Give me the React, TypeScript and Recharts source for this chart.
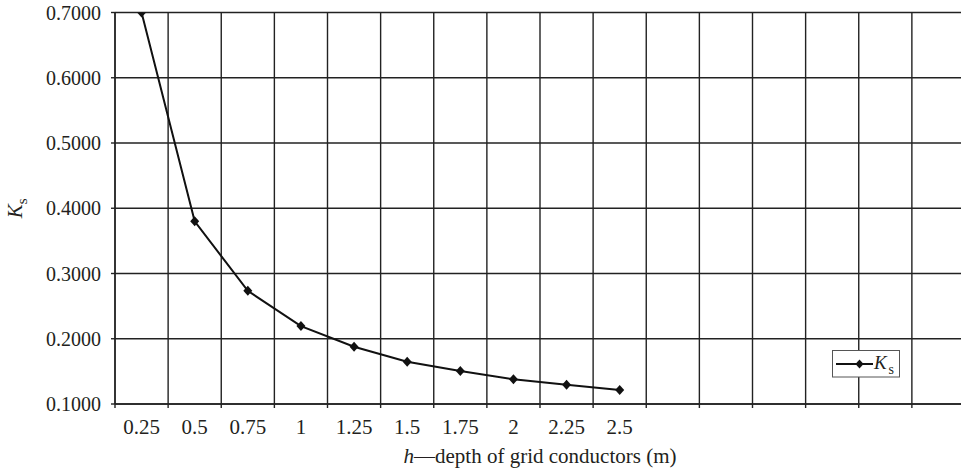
import React from 'react';
import { LineChart, Line, XAxis, YAxis, CartesianGrid, Legend } from 'recharts';

const depthLabels = ['0.25', '0.5', '0.75', '1', '1.25', '1.5', '1.75', '2', '2.25', '2.5'];
const ksValues = [0.7, 0.38, 0.2734, 0.2194, 0.1877, 0.1648, 0.1505, 0.1378, 0.1296, 0.1214];
const yTicks = [0.1, 0.2, 0.3, 0.4, 0.5, 0.6, 0.7];
const categoryCount = 16;

const data = depthLabels.map((label, i) => ({ pos: i + 0.5, label, ks: ksValues[i] }));
const boundaryTicks = Array.from({ length: categoryCount + 1 }, (_, i) => i);
const labelTicks = depthLabels.map((_, i) => i + 0.5);

const FONT = '"Liberation Serif", "DejaVu Serif", serif';
const INK = '#231f20';
const GRID = '#222';

const Diamond = (props: any) => {
  const { cx, cy } = props;
  if (cx == null || cy == null) return null;
  return (
    <polygon
      key={`d-${props.index}`}
      points={`${cx},${cy - 5} ${cx + 4.5},${cy} ${cx},${cy + 5} ${cx - 4.5},${cy}`}
      fill="#111"
    />
  );
};

const YTitle = (props: any) => {
  const vb = props.viewBox || { x: 0, y: 0, width: 0, height: 0 };
  const x = vb.x + 22;
  const y = vb.y + vb.height / 2;
  return (
    <text transform={`translate(${x},${y}) rotate(-90)`} textAnchor="middle" fontFamily={FONT} fontSize={21} fill={INK}>
      <tspan fontStyle="italic">K</tspan>
      <tspan fontSize={15} dy={5}>s</tspan>
    </text>
  );
};

const XTitle = (props: any) => {
  const vb = props.viewBox || { x: 0, y: 0, width: 0, height: 0 };
  const x = vb.x + vb.width / 2;
  const y = vb.y + 57.5;
  return (
    <text x={x} y={y} textAnchor="middle" fontFamily={FONT} fontSize={21} fill={INK}>
      <tspan fontStyle="italic">h</tspan>
      <tspan>—depth of grid conductors (m)</tspan>
    </text>
  );
};

const LegendBox = () => (
  <svg width={68} height={28} style={{ display: 'block' }}>
    <rect x={0.5} y={0.5} width={67} height={26.5} fill="#fff" stroke="#555" strokeWidth={1} />
    <line x1={4} y1={14} x2={41} y2={14} stroke="#111" strokeWidth={2} />
    <polygon points="27.5,9.5 31.5,14 27.5,18.5 23.5,14" fill="#111" />
    <text x={42} y={18.5} fontFamily={FONT} fontSize={19} fontStyle="italic" fill={INK}>K</text>
    <text x={56.5} y={23.5} fontFamily={FONT} fontSize={14} fill={INK}>s</text>
  </svg>
);

export default function App() {
  return (
    <div style={{ position: 'absolute', top: 0, left: 0, width: 961, height: 474, overflow: 'hidden', fontFamily: FONT, background: '#fff' }}>
      <LineChart width={968} height={474} data={data} margin={{ top: 12.5, right: 3, bottom: 0, left: 0 }}>
        <CartesianGrid stroke={GRID} strokeWidth={1.4} xAxisId={0} yAxisId={0} />
        <XAxis
          xAxisId={0}
          type="number"
          dataKey="pos"
          domain={[0, categoryCount]}
          ticks={boundaryTicks}
          interval={0}
          tickFormatter={() => ''}
          tickSize={4}
          tickMargin={0}
          height={1}
          axisLine={{ stroke: GRID, strokeWidth: 1.4 }}
          tickLine={{ stroke: GRID, strokeWidth: 1.4 }}
          allowDataOverflow
        />
        <XAxis
          xAxisId="lab"
          type="number"
          dataKey="pos"
          domain={[0, categoryCount]}
          ticks={labelTicks}
          interval={0}
          tickFormatter={(v: number) => depthLabels[Math.floor(v)] ?? ''}
          axisLine={false}
          tickLine={false}
          tickSize={0}
          tickMargin={14}
          height={69}
          tick={{ fontSize: 21, fontFamily: FONT, fill: INK }}
          label={<XTitle />}
          allowDataOverflow
        />
        <YAxis
          yAxisId={0}
          type="number"
          domain={[0.1, 0.7]}
          ticks={yTicks}
          interval={0}
          width={115}
          tickSize={4}
          tickMargin={10}
          tickFormatter={(v: number) => v.toFixed(4)}
          tick={{ fontSize: 20, fontFamily: FONT, fill: INK }}
          axisLine={{ stroke: GRID, strokeWidth: 1.4 }}
          tickLine={{ stroke: GRID, strokeWidth: 1.4 }}
          label={<YTitle />}
          allowDataOverflow
        />
        <Legend
          layout="vertical"
          align="center"
          verticalAlign="middle"
          wrapperStyle={{ left: 831.5, top: 350, right: 'auto', bottom: 'auto', width: 68, height: 28 }}
          content={() => <LegendBox />}
        />
        <Line
          xAxisId={0}
          yAxisId={0}
          type="linear"
          dataKey="ks"
          name="Ks"
          stroke="#111"
          strokeWidth={2}
          dot={<Diamond />}
          activeDot={false}
          isAnimationActive={false}
        />
      </LineChart>
    </div>
  );
}
